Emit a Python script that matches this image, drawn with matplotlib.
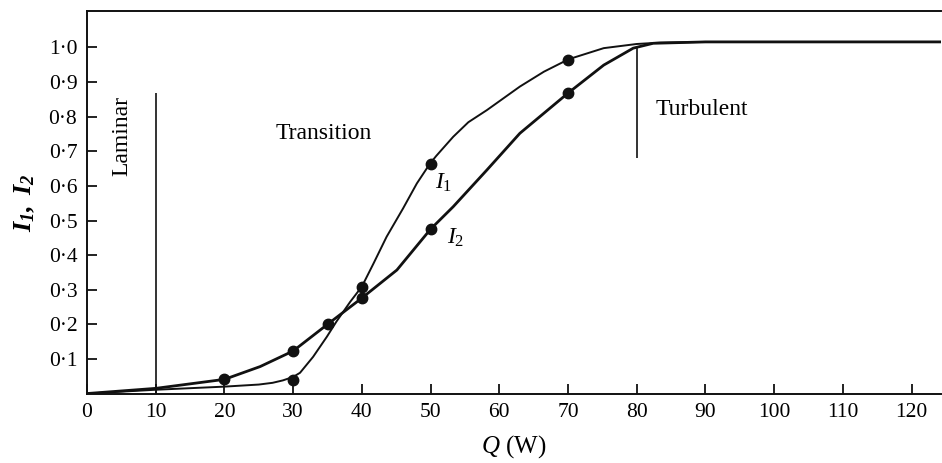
import matplotlib
matplotlib.use("Agg")
import matplotlib.pyplot as plt

# ---------------------- data ----------------------
# measured points (dots)
i1_q = [30, 40, 50, 70]
i1_val = [0.039, 0.309, 0.664, 0.965]
i2_q = [20, 30, 35, 40, 50, 70]
i2_val = [0.041, 0.123, 0.200, 0.276, 0.475, 0.868]

# hand-drawn curves
i1_curve_q = [0, 10, 20, 25, 27, 28.5, 30, 31, 32.9, 34.9, 36.3, 38.3, 40, 41.7,
              43.6, 46, 48, 49.9, 50.8, 51.6, 53.3, 55.5, 58.2, 63, 66.5, 70.1,
              75.2, 80, 83.4, 90, 124.3]
i1_curve_val = [0, 0.011, 0.020, 0.026, 0.031, 0.038, 0.048, 0.060, 0.106, 0.164,
                0.208, 0.265, 0.309, 0.376, 0.453, 0.535, 0.607, 0.664, 0.686,
                0.704, 0.742, 0.784, 0.819, 0.887, 0.930, 0.966, 0.998, 1.010,
                1.014, 1.016, 1.016]
i2_curve_q = [0, 10, 20, 25.2, 30, 35, 40, 45.1, 50, 53.3, 58.2, 63, 70, 75.2,
              79.5, 82.4, 90, 124.3]
i2_curve_val = [0, 0.015, 0.041, 0.078, 0.123, 0.200, 0.276, 0.357, 0.475, 0.540,
                0.646, 0.752, 0.868, 0.949, 0.998, 1.012, 1.016, 1.016]

x_ticks = [0, 10, 20, 30, 40, 50, 60, 70, 80, 90, 100, 110, 120]
y_ticks = [0.1, 0.2, 0.3, 0.4, 0.5, 0.6, 0.7, 0.8, 0.9, 1.0]
y_tick_labels = ["0·1", "0·2", "0·3", "0·4", "0·5", "0·6", "0·7", "0·8", "0·9", "1·0"]

# regime boundaries
laminar_q, laminar_top = 10, 0.868
turb_q, turb_range = 80, (0.68, 1.005)

# ---------------------- style ----------------------
plt.rcParams["font.family"] = ["Liberation Serif", "DejaVu Serif"]
plt.rcParams["mathtext.fontset"] = "custom"
plt.rcParams["mathtext.rm"] = "Liberation Serif"
plt.rcParams["mathtext.it"] = "Liberation Serif:italic"
plt.rcParams["mathtext.bf"] = "Liberation Serif:bold:italic"

fig = plt.figure(figsize=(9.42, 4.63), dpi=100)
ax = fig.add_axes([0.0924, 0.150, 0.9066, 0.826])

ink = "#111111"
ax.plot(i1_curve_q, i1_curve_val, color=ink, lw=1.4)
ax.plot(i2_curve_q, i2_curve_val, color=ink, lw=2.0)
ax.plot(i1_q, i1_val, "o", color=ink, ms=7.5)
ax.plot(i2_q, i2_val, "o", color=ink, ms=7.5)

ax.vlines(laminar_q, 0, laminar_top, color=ink, lw=1.2)
ax.vlines(turb_q, *turb_range, color=ink, lw=1.2)

ax.text(5.0, 0.745, "Laminar", rotation=90, ha="center", va="center", fontsize=17)
ax.text(27.5, 0.75, "Transition", ha="left", va="center", fontsize=17)
ax.text(82.8, 0.82, "Turbulent", ha="left", va="center", fontsize=17)
ax.text(50.7, 0.61, r"$I_1$", ha="left", va="center", fontsize=17)
ax.text(52.4, 0.45, r"$I_2$", ha="left", va="center", fontsize=17)

ax.set_xlim(0, 124.3)
ax.set_ylim(0, 1.105)
ax.set_xticks(x_ticks)
ax.set_xticklabels([str(t) for t in x_ticks])
ax.set_yticks(y_ticks)
ax.set_yticklabels(y_tick_labels)
ax.tick_params(direction="in", length=7, width=1.3, labelsize=15.5, pad=7, color=ink)
ax.spines["right"].set_visible(False)
for s in ["left", "bottom", "top"]:
    ax.spines[s].set_linewidth(1.4)
    ax.spines[s].set_color(ink)

ax.set_xlabel(r"$Q$ (W)", fontsize=18, labelpad=8)
ax.set_ylabel(r"$\mathbf{I_1,\ I_2}$", fontsize=19, labelpad=8)

fig.savefig("out.png", dpi=100)
